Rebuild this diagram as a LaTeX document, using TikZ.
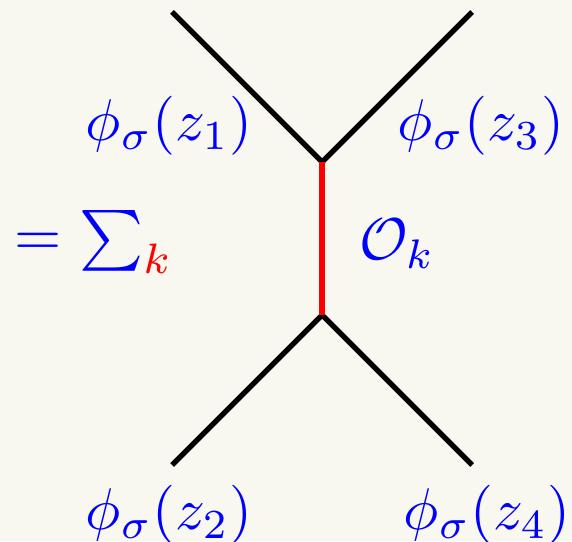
\documentclass[tikz,border=0pt]{standalone}
\usepackage{xcolor}
\definecolor{bg}{HTML}{F8F7F0}
\begin{document}
\begin{tikzpicture}[x=1pt,y=1pt,
  leg/.style={line width=5.3pt,black},
  mid/.style={line width=5.3pt,red},
  lab/.style={blue,inner sep=0pt,scale=5.9}]
\fill[bg] (0,0) rectangle (572,541);
\useasboundingbox (0,0) rectangle (572,541);
\coordinate (vt) at (322,379);
\coordinate (vb) at (322,226);
\coordinate (ul) at (172,529);
\coordinate (ur) at (472,529);
\coordinate (ll) at (172,76);
\coordinate (lr) at (472,76);
\draw[leg,line cap=butt] (ul) -- (vt) -- (ur);
\draw[leg] (ll) -- (vb) -- (lr);
\draw[mid] (vt) -- (vb);
\node[lab] (z1) at (169,415) {$\phi_\sigma(z_1)$};
\node[lab] (z3) at (481,415) {$\phi_\sigma(z_3)$};
\node[lab] (z2) at (169,26) {$\phi_\sigma(z_2)$};
\node[lab] (z4) at (487,26) {$\phi_\sigma(z_4)$};
\node[lab] (ok) at (397,297) {$\mathcal{O}_k$};
\node[lab,scale=1.03] (sum) at (94,299) {$=\sum_{\color{red}k}$};
\end{tikzpicture}
\end{document}
